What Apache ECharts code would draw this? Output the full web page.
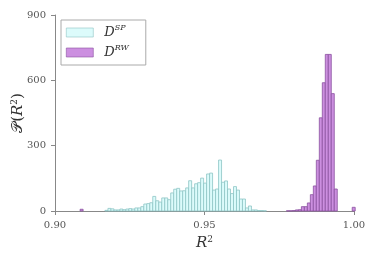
<!DOCTYPE html>
<html><head><meta charset="utf-8">
<script src="https://cdn.jsdelivr.net/npm/echarts@6/dist/echarts.min.js"></script>
<style>html,body{margin:0;padding:0;background:#fff}#c{width:374px;height:257px}</style>
</head><body><div id="c"></div>
<script>
// Histogram data (bin width 0.001)
var binWidth = 0.001;
var spStart = 0.9167;
var spCounts = [3,12,10,5,5,9,6,9,11,9,14,14,20,32,34,38,67,47,41,60,60,52,83,100,104,92,93,106,139,106,125,130,151,128,170,174,96,101,234,132,138,101,80,112,96,55,55,14,23,5,5,2,2,1];
var rwStart = 0.9774;
var rwCounts = [1,1,2,5,6,20,20,37,75,115,233,428,589,719,719,539,101];
var rwOutliers = [[0.9084, 8], [0.9994, 17]];
var xTicks = ['0.90','0.95','1.00'];
var yTicks = [0,300,600,900];

function toBins(start, counts){
  return counts.map(function(c,i){ var l = start + i*binWidth; return [l, l+binWidth, c]; });
}
var spData = toBins(spStart, spCounts);
var rwData = toBins(rwStart, rwCounts).concat(rwOutliers.map(function(o){return [o[0], o[0]+binWidth, o[1]];}));

function renderBar(params, api){
  var p0 = api.coord([api.value(0), 0]);
  var p1 = api.coord([api.value(1), api.value(2)]);
  return {type:'rect', shape:{x:p0[0], y:p1[1], width:p1[0]-p0[0], height:p0[1]-p1[1]}, style:api.style()};
}
var serif = '"DejaVu Serif", "Liberation Serif", serif';
var chart = echarts.init(document.getElementById('c'));
chart.setOption({
  animation:false,
  grid:{left:55, right:20, top:15, bottom:46, containLabel:false, outerBoundsMode:'none'},
  legend:{
    left:61, top:20, orient:'vertical', itemWidth:27, itemHeight:9, itemGap:5, icon:'rect',
    borderColor:'#aaa', borderWidth:1, padding:[4,17,6,5],
    itemStyle:{borderWidth:0.6},
    data:['SP','RW'],
    formatter:function(n){ return '{d|D}{s|'+n+'}'; },
    textStyle:{lineHeight:13, rich:{d:{fontFamily:serif, fontStyle:'italic', fontSize:13, color:'#333', lineHeight:13}, s:{fontFamily:serif, fontStyle:'italic', fontSize:8, color:'#333', verticalAlign:'bottom', lineHeight:13, padding:[0,0,7,0]}}, padding:[0,0,0,6]}
  },
  xAxis:{type:'value', min:0.9, max:1.0, interval:0.05,
    axisLine:{lineStyle:{color:'#888'}}, axisTick:{length:4, lineStyle:{color:'#888'}},
    splitLine:{show:false},
    axisLabel:{fontFamily:serif, fontSize:10, color:'#555', margin:9, formatter:function(v){ return xTicks[Math.round((v-0.9)/0.05)]; }},
    name:'{r|R}{s|2}', nameLocation:'middle', nameGap:24, nameMoveOverlap:false,
    nameTextStyle:{rich:{r:{fontFamily:serif, fontStyle:'italic', fontSize:15, color:'#333'}, s:{fontFamily:serif, fontSize:9, color:'#333', verticalAlign:'bottom', padding:[0,0,8,0]}}}
  },
  yAxis:{type:'value', min:0, max:900, interval:300,
    axisLine:{show:true, lineStyle:{color:'#888'}}, axisTick:{show:true, length:4, lineStyle:{color:'#888'}},
    splitLine:{show:false},
    axisLabel:{fontFamily:serif, fontSize:10, color:'#555', margin:9},
    name:'{p|𝒫}{n|(}{r|R}{s|2}{n|)}', nameLocation:'middle', nameGap:28, nameMoveOverlap:false,
    nameTextStyle:{rich:{p:{fontFamily:serif, fontSize:15, color:'#333'}, n:{fontFamily:serif, fontSize:15, color:'#333'}, r:{fontFamily:serif, fontStyle:'italic', fontSize:15, color:'#333'}, s:{fontFamily:serif, fontSize:9, color:'#333', verticalAlign:'bottom', padding:[0,0,8,0]}}}
  },
  series:[
    {name:'SP', type:'custom', renderItem:renderBar, data:spData, encode:{x:[0,1], y:2},
      itemStyle:{color:'#dcfbfb', borderColor:'#8ec5c5', borderWidth:0.8}},
    {name:'RW', type:'custom', renderItem:renderBar, data:rwData, encode:{x:[0,1], y:2},
      itemStyle:{color:'#cc8fe0', borderColor:'#8a50a0', borderWidth:0.8}}
  ]
});
</script></body></html>
